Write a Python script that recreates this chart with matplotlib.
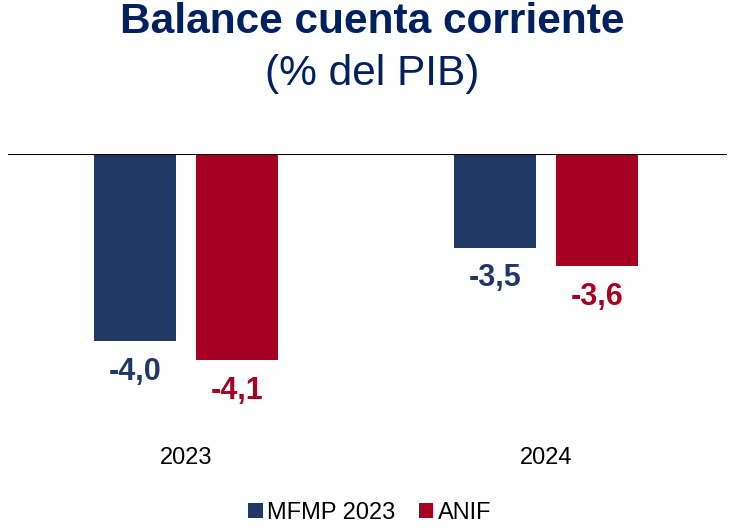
import matplotlib
matplotlib.use("Agg")
import matplotlib.pyplot as plt
from matplotlib.patches import Patch
import numpy as np

plt.rcParams['font.family'] = ['Liberation Sans', 'DejaVu Sans']

years = ["2023", "2024"]
series_names = ["MFMP 2023", "ANIF"]
mfmp = [-4.0, -3.5]
anif = [-4.1, -3.6]
baseline = -3.0

navy = "#1F3864"
crimson = "#A50021"
title_col = "#002060"

W, H = 730, 527
fig = plt.figure(figsize=(W / 100, H / 100), dpi=100)
ax = fig.add_axes([8 / W, 1 - 430 / H, (727 - 8) / W, (430 - 154) / H])

x = np.arange(len(years))
bw = 0.228
off = 0.141
for vals, col, dx in [(mfmp, navy, -off), (anif, crimson, off)]:
    heights = [v - baseline for v in vals]
    ax.bar(x + dx, heights, bw, bottom=baseline, color=col, edgecolor="none")
    for xi, v in zip(x + dx, vals):
        ax.annotate(f"{v:.1f}".replace(".", ","), (xi, v), xytext=(0, -11.5),
                    textcoords="offset points", ha="center", va="top",
                    fontsize=22, fontweight="bold", color=col)

ax.set_xlim(-0.494, 1.503)
ax.set_ylim(baseline - 276 / 187, baseline)
ax.axhline(baseline, color="black", lw=1.5, zorder=5)
for s in ["left", "right", "bottom", "top"]:
    ax.spines[s].set_visible(False)
ax.set_yticks([])
ax.set_xticks(x, years)
ax.tick_params(axis="x", length=0, pad=12.5, labelsize=17)

fig.text(372 / W, 1 - 22 / H, "Balance cuenta corriente", ha="center", va="center",
         fontsize=30.5, fontweight="bold", color=title_col)
fig.text(372 / W, 1 - 74 / H, "(% del PIB)", ha="center", va="center",
         fontsize=30.5, color=title_col)

handles = [Patch(facecolor=navy), Patch(facecolor=crimson)]
fig.legend(handles, series_names, loc="center", bbox_to_anchor=(370 / W, 1 - 513 / H),
           ncol=2, frameon=False, fontsize=17, handlelength=0.6, handleheight=0.6,
           handletextpad=0.2, columnspacing=1.0, borderpad=0, borderaxespad=0)

fig.savefig("out.png", dpi=100)
